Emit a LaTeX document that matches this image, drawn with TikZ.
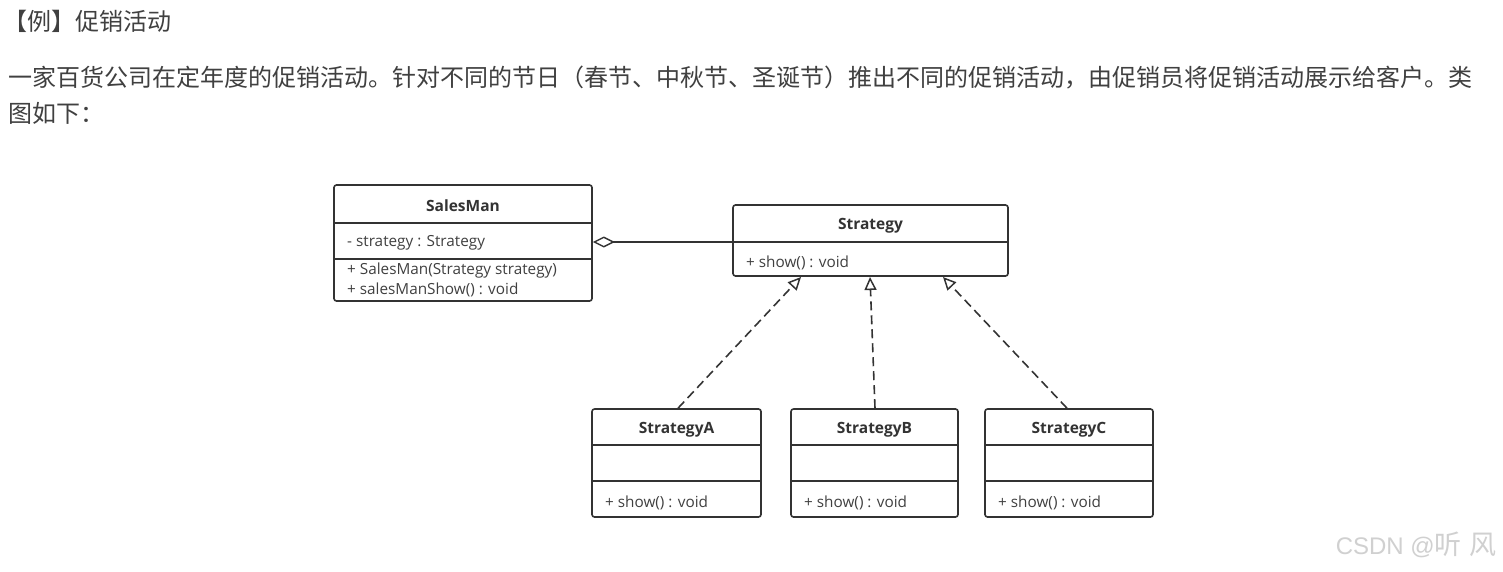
\documentclass[tikz,border=0pt]{standalone}
\usepackage{fontspec}
\setmainfont{Open Sans}
\newfontfamily\cjk{Noto Sans CJK SC}
\newfontfamily\wmlat{Liberation Sans}
\usetikzlibrary{arrows.meta}
\definecolor{ink}{HTML}{333333}
\definecolor{txt}{HTML}{404040}
\definecolor{wm}{HTML}{D0D0D0}
\tikzset{
  umlbox/.style={draw=ink, line width=1.6pt, rounded corners=2.5pt, inner sep=0pt},
  divline/.style={draw=ink, line width=1.6pt},
  ctitle/.style={font=\fontsize{15.5}{18}\selectfont\bfseries, text=ink, inner sep=0pt},
  member/.style={font=\fontsize{15.3}{17}\selectfont, text=txt, inner sep=0pt, anchor=west},
  para/.style={font=\cjk\fontsize{24}{28}\selectfont, text=txt, inner sep=0pt, anchor=west},
  realize/.style={draw=ink, line width=1.6pt, dash pattern=on 9pt off 5pt, -{Triangle[open, length=13pt, width=12pt, line width=1.5pt]}},
}
\begin{document}
\begin{tikzpicture}[x=1pt,y=-1pt]
\useasboundingbox[fill=white] (0,0) rectangle (1503,571);
% texts
\node[para] (title) at (3,21) {【例】促销活动};
\node[para] (p1) at (8,78) {一家百货公司在定年度的促销活动。针对不同的节日（春节、中秋节、圣诞节）推出不同的促销活动，由促销员将促销活动展示给客户。类};
\node[para] (p2) at (8,113) {图如下：};
% SalesMan
\node[umlbox, minimum width=258pt, minimum height=116pt] (sm) at (463,243) {};
\draw[divline] (sm.west |- 0,223) -- (sm.east |- 0,223);
\draw[divline] (sm.west |- 0,259) -- (sm.east |- 0,259);
\node[ctitle] (smt) at (463,206) {SalesMan};
\node[member] (sma) at (347,243) {- strategy : Strategy};
\node[member] (smo1) at (347,271) {+ SalesMan(Strategy strategy)};
\node[member] (smo2) at (347,290) {+ salesManShow() : void};
% Strategy
\node[umlbox, minimum width=275pt, minimum height=71pt] (st) at (870.5,240.5) {};
\draw[divline] (st.west |- 0,242) -- (st.east |- 0,242);
\node[ctitle] (stt) at (870.5,226) {Strategy};
\node[member] (sto) at (746,263) {+ show() : void};
% concrete strategies
\node[umlbox, minimum width=169pt, minimum height=108pt] (a) at (676.5,463) {};
\node[umlbox, minimum width=167pt, minimum height=108pt] (b) at (874.5,463) {};
\node[umlbox, minimum width=168pt, minimum height=108pt] (c) at (1069,463) {};
\foreach \n in {a,b,c}{
  \draw[divline] (\n.west |- 0,445) -- (\n.east |- 0,445);
  \draw[divline] (\n.west |- 0,481) -- (\n.east |- 0,481);
}
\node[ctitle] (at) at (676.5,430) {StrategyA};
\node[ctitle] (bt) at (874.5,430) {StrategyB};
\node[ctitle] (ct) at (1069,430) {StrategyC};
\node[member] (ao) at (605,503) {+ show() : void};
\node[member] (bo) at (804,503) {+ show() : void};
\node[member] (co) at (998,503) {+ show() : void};
% connectors
\coordinate (stA) at (801,277);
\coordinate (stB) at (870,277);
\coordinate (stC) at (943,277);
\draw[realize] (a.north -| 678,0) -- (stA);
\draw[realize] (b.north -| 875,0) -- (stB);
\draw[realize] (c.north -| 1067,0) -- (stC);
\draw[draw=ink, line width=1.6pt, {Diamond[open, length=22pt, width=11pt, line width=1.4pt]}-] (sm.east |- 0,242) -- (st.west |- 0,242);
% watermark
\node[text=wm, inner sep=0pt, anchor=east] (wmk) at (1497,545) {\wmlat\fontsize{24}{28}\selectfont CSDN @\cjk\fontsize{27}{30}\selectfont 听\hspace{8pt}风};
\end{tikzpicture}
\end{document}
